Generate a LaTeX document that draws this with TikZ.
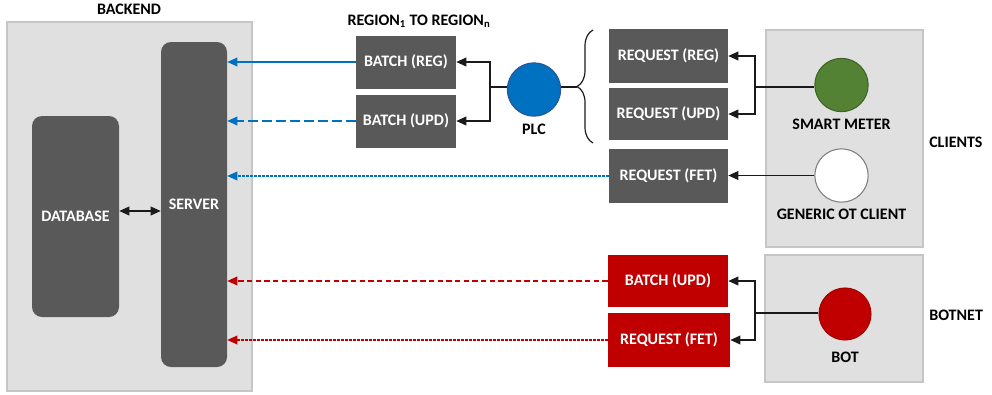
\documentclass[tikz,border=0pt]{standalone}
\usepackage{fontspec}
\setmainfont{Carlito}
\usetikzlibrary{arrows.meta,decorations.pathreplacing}

\definecolor{blockgray}{HTML}{595959}
\definecolor{panelfill}{HTML}{E0E0E0}
\definecolor{panelline}{HTML}{C6C6C6}
\definecolor{flowblue}{HTML}{0070C0}
\definecolor{plcline}{HTML}{2F5597}
\definecolor{attackred}{HTML}{C00000}
\definecolor{meter}{HTML}{548235}
\definecolor{meterline}{HTML}{3F6428}
\definecolor{wire}{HTML}{1A1A1A}

\tikzset{
  panel/.style={draw=panelline, fill=panelfill, line width=0.8pt, inner sep=0pt},
  block/.style={fill=blockgray, text=white, inner sep=0pt, rounded corners=7.5pt},
  msgbox/.style={fill=blockgray, text=white, inner sep=0pt, minimum width=#1},
  msgbox/.default=75pt,
  device/.style={circle, inner sep=0pt, minimum size=40pt, line width=0.8pt},
  tip/.style={-{Triangle[length=7.5pt,width=6.5pt]}},
  feed/.style={draw=wire, line width=1.1pt},
  upflow/.style={line width=0.95pt, tip},
  caption/.style={inner sep=0pt, text=black},
}

\begin{document}
\begin{tikzpicture}[x=0.75pt, y=-0.75pt,
  font=\fontsize{12}{14}\selectfont\bfseries]
\useasboundingbox (0,0) rectangle (992,394);

% ---------- containers ----------
\node[panel, minimum width=183.75pt, minimum height=276.75pt] (backend) at (129.5,206.5) {};
\node[panel, minimum width=117.75pt, minimum height=162.75pt] (clients) at (844.5,138.5) {};
\node[panel, minimum width=118.5pt, minimum height=95.25pt] (botnet) at (844,318.5) {};

\node[caption] (backendlbl) at (129,9) {BACKEND};
\node[caption, anchor=west] (clientslbl) at (929,142) {CLIENTS};
\node[caption, anchor=west] (botnetlbl) at (929,315) {BOTNET};
\node[caption] (regionlbl) at (419,21) {REGION\textsubscript{1} TO REGION\textsubscript{n}};

% ---------- backend ----------
\node[block, minimum width=49.5pt, minimum height=243.75pt] (server) at (194,204.5) {SERVER};
\node[block, minimum width=65.25pt, minimum height=150.75pt] (database) at (75.5,216.5) {DATABASE};
\coordinate (dblink) at (0,211);
\draw[feed, {Triangle[length=7.5pt,width=6.5pt]}-{Triangle[length=7.5pt,width=6.5pt]}]
  (database.east |- dblink) -- (server.west |- dblink);

% ---------- aggregated traffic ----------
\node[msgbox, minimum height=39.75pt] (batchreg) at (406,62) {BATCH (REG)};
\node[msgbox, minimum height=39.75pt] (batchupd) at (406,121) {BATCH (UPD)};

\node[device, fill=flowblue, draw=plcline] (plc) at (534,89.5) {};
\node[caption] (plclbl) at (534,129) {PLC};

\coordinate (plcfork) at (490,87);
\draw[feed] (plc.west |- plcfork) -- (plcfork);
\draw[feed, tip] (plcfork) |- (batchreg.east);
\draw[feed, tip] (plcfork) |- (batchupd.east);

% ---------- client requests ----------
\node[msgbox=89.25pt, minimum height=40.5pt] (reqreg) at (668.5,56) {REQUEST (REG)};
\node[msgbox=89.25pt, minimum height=39pt] (requpd) at (668.5,114) {REQUEST (UPD)};
\node[msgbox=89.25pt, minimum height=40.5pt] (reqfet) at (668.5,176) {REQUEST (FET)};

\draw[feed, line width=0.9pt, decorate, decoration={brace, amplitude=12pt}]
  (593,143) -- (593,30);
\coordinate (bracetip) at (577,87);
\draw[feed] (plc.east |- bracetip) -- (bracetip);

\node[device, fill=meter, draw=meterline] (smartmeter) at (841.5,85) {};
\node[caption] (smartlbl) at (841.5,124) {SMART METER};
\node[device, fill=white, draw=gray] (generic) at (841.5,175.5) {};
\node[caption] (genericlbl) at (841.5,214) {GENERIC OT CLIENT};

\coordinate (meterfork) at (755,87);
\draw[feed] (smartmeter.west |- meterfork) -- (meterfork);
\draw[feed, tip] (meterfork) |- (reqreg.east);
\draw[feed, tip] (meterfork) |- (requpd.east);
\draw[feed, tip] (generic.west) -- (reqfet.east |- generic.west);

% ---------- botnet traffic ----------
\node[msgbox=90pt, minimum height=39pt, fill=attackred] (botbatch) at (668,281) {BATCH (UPD)};
\node[msgbox=91.5pt, minimum height=40.5pt, fill=attackred] (botreq) at (669,340) {REQUEST (FET)};

\node[device, minimum size=39pt, fill=attackred, draw=attackred!85!black] (bot) at (845,314) {};
\node[caption] (botlbl) at (845,357) {BOT};

\coordinate (botfork) at (755,313);
\draw[feed] (bot.west |- botfork) -- (botfork);
\draw[feed, tip] (botfork) |- (botbatch.east);
\draw[feed, tip] (botfork) |- (botreq.east);

% ---------- traffic reaching the server ----------
\draw[upflow, draw=flowblue] (batchreg.west) -- (server.east |- batchreg.west);
\draw[upflow, draw=flowblue, dash pattern=on 7pt off 3.5pt] (batchupd.west) -- (server.east |- batchupd.west);
\draw[upflow, draw=flowblue, dash pattern=on 2pt off 1pt] (reqfet.west) -- (server.east |- reqfet.west);
\draw[upflow, draw=attackred, dash pattern=on 4pt off 2.5pt] (botbatch.west) -- (server.east |- botbatch.west);
\draw[upflow, draw=attackred, dash pattern=on 2pt off 1pt] (botreq.west) -- (server.east |- botreq.west);
\end{tikzpicture}
\end{document}
